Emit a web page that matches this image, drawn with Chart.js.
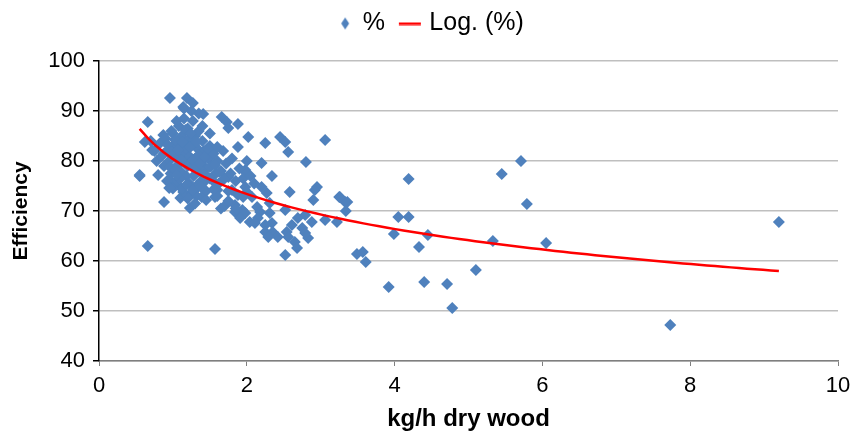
<!DOCTYPE html>
<html>
<head>
<meta charset="utf-8">
<script src="https://cdn.jsdelivr.net/npm/chart.js@4/dist/chart.umd.min.js"></script>
<style>
  html, body { margin: 0; padding: 0; background: #fff; }
  #wrap { width: 855px; height: 434px; }
</style>
</head>
<body>
<div id="wrap"><canvas id="c" width="855" height="434"></canvas></div>
<script>
// Fuel feed rate (kg/h dry wood) for each test
const woodRate = [
  0.55, 0.66, 0.96, 1.19, 1.27, 1.14, 0.66, 0.55, 0.80, 0.62, 0.72, 0.87,
  1.41, 1.66, 1.73, 1.75, 1.88, 2.02, 1.88, 2.25, 2.20, 1.98,
  3.06, 2.45, 2.52, 2.56, 2.80, 2.34, 2.58, 2.95,
  2.27, 2.92, 2.90, 3.26, 3.33, 3.06, 3.22, 2.88, 2.79, 2.69, 2.61, 2.52,
  2.31, 2.34, 2.35, 2.42, 2.54, 2.56, 2.65, 2.68, 2.83, 2.52, 2.75, 2.79,
  1.57, 1.84, 1.94, 1.98, 2.04, 2.14, 2.18, 2.15, 2.11, 2.25, 2.25, 2.29,
  2.20, 1.98, 1.98, 1.75, 1.47, 1.41, 1.30, 1.39, 1.57, 1.60, 1.80, 1.88,
  2.07, 2.31, 1.84, 1.91,
  0.88, 1.10, 1.23, 1.14, 1.26, 0.96, 1.03, 1.33,
  0.70, 0.75, 0.78, 0.82, 0.85, 0.88, 0.90, 0.92, 0.95, 0.97, 1.00, 1.00,
  1.02, 1.05, 1.05, 1.08, 1.08, 1.10, 1.10, 1.12, 1.12, 1.15, 1.15, 1.17,
  1.18, 1.20, 1.20, 1.22, 1.22, 1.25, 1.25, 1.27, 1.28, 1.30, 1.30, 1.32,
  1.33, 1.35, 1.35, 1.38, 1.40, 1.40, 1.42, 1.45, 1.45, 1.48, 1.50, 1.50,
  1.52, 1.55, 1.58, 1.60, 1.62, 1.65, 1.68, 1.70, 1.72, 1.75, 1.78, 1.80,
  1.85, 1.90, 1.95, 2.00, 2.05, 2.10, 1.15, 1.05, 0.98, 1.25, 1.40, 1.50,
  1.20, 1.30, 1.10, 1.00, 0.92, 1.60, 1.70, 1.35, 1.28, 1.18, 1.08, 0.96,
  1.45, 1.55, 1.65, 1.75, 1.85, 1.95, 2.00,
  0.88, 0.93, 0.98, 1.03, 1.03, 1.07, 1.12, 1.13, 1.17, 1.20, 1.23, 1.24,
  1.27, 1.30, 1.32, 1.35, 1.37, 1.42, 1.43, 1.47, 1.50, 1.53, 1.57, 1.60,
  1.63, 1.18, 1.27, 1.38, 1.05, 0.95,
  3.25, 3.36, 3.34, 3.49, 3.57, 3.61, 3.92, 3.99, 4.05, 4.19, 4.19, 4.33,
  4.45, 4.40, 4.71, 4.78, 5.10, 5.33, 5.45, 5.71, 5.79, 6.05, 7.73, 9.20
];

// Measured efficiency (%) for the same tests
const efficiency = [
  77.0, 63.0, 92.6, 92.6, 91.6, 90.8, 87.8, 77.2, 77.2, 83.8, 82.2, 85.2,
  89.4, 88.8, 87.8, 86.6, 87.4, 84.8, 82.8, 83.6, 79.6, 78.2,
  84.2, 84.8, 83.8, 81.8, 79.8, 77.0, 73.8, 74.8,
  73.6, 74.2, 72.2, 72.8, 71.8, 68.2, 67.8, 67.8, 69.2, 68.6, 67.2, 70.2,
  69.6, 67.6, 65.8, 64.8, 65.8, 64.8, 63.8, 62.6, 64.6, 61.2, 66.6, 65.6,
  62.4, 71.2, 70.2, 69.6, 67.8, 70.8, 69.8, 68.6, 67.6, 67.2, 65.8, 64.8,
  74.8, 74.8, 77.8, 76.8, 76.8, 75.6, 74.2, 72.8, 72.8, 74.2, 74.2, 73.2,
  72.8, 71.6, 69.8, 68.6,
  71.8, 72.6, 70.6, 73.8, 73.6, 76.2, 75.2, 75.2,
  84.0, 82.0, 80.0, 83.5, 81.0, 79.0, 84.5, 82.0, 80.0, 77.5, 83.0, 85.5,
  81.0, 79.0, 76.0, 83.0, 87.0, 80.5, 78.0, 85.0, 74.5, 82.0, 88.5, 79.5,
  77.0, 84.0, 86.5, 81.0, 75.5, 79.0, 83.0, 88.0, 77.0, 85.0, 80.5, 73.0,
  82.5, 78.0, 86.0, 76.0, 80.0, 84.0, 82.0, 78.5, 74.0, 80.5, 83.0, 76.5,
  79.0, 81.5, 77.5, 80.0, 75.5, 78.0, 82.0, 76.5, 79.5, 74.0, 77.5, 80.5,
  76.0, 78.5, 76.5, 80.0, 77.0, 75.5, 90.5, 88.0, 86.0, 90.0, 87.0, 85.5,
  72.5, 71.5, 76.5, 74.5, 76.0, 73.0, 71.0, 89.5, 84.2, 82.5, 80.5, 78.8,
  72.2, 74.3, 70.5, 72.0, 70.5, 72.8, 73.8,
  81.5, 83.2, 81.8, 84.2, 78.2, 82.2, 80.2, 83.8, 86.2, 79.0, 82.8, 85.5,
  80.2, 78.5, 83.8, 81.2, 79.5, 77.2, 80.8, 82.5, 78.8, 76.2, 79.2, 82.8,
  77.8, 75.2, 74.2, 74.8, 77.2, 74.6,
  72.8, 71.8, 70.0, 61.4, 61.8, 59.8, 54.8, 65.4, 68.8, 68.8, 76.4, 62.8,
  65.2, 55.8, 55.4, 50.6, 58.2, 64.0, 77.4, 80.0, 71.4, 63.6, 47.2, 67.8
];

// Logarithmic trend line y = trendA + trendB * ln(x)
const trendA = 80.4;
const trendB = -10.1;

// Axis ticks
const xTicks = [0, 2, 4, 6, 8, 10];
const yTicks = [40, 50, 60, 70, 80, 90, 100];

const points = woodRate.map((x, i) => ({ x: x, y: efficiency[i] }));

const xMin = Math.min(...woodRate), xMax = Math.max(...woodRate);
const trend = [];
for (let k = 0; k <= 80; k++) {
  const x = xMin + (xMax - xMin) * k / 80;
  trend.push({ x: x, y: trendA + trendB * Math.log(x) });
}

const FONT = '"Liberation Sans", Arial, sans-serif';
const BLUE = '#4F81BD';
const RED = '#FF0000';

// Small legend glyphs: a diamond marker and a short red stroke
function diamondGlyph() {
  const c = document.createElement('canvas');
  c.width = 20; c.height = 14;
  const g = c.getContext('2d');
  g.fillStyle = BLUE;
  g.beginPath();
  g.moveTo(12, 1); g.lineTo(16, 7); g.lineTo(12, 13); g.lineTo(8, 7);
  g.closePath(); g.fill();
  return c;
}
function lineGlyph() {
  const c = document.createElement('canvas');
  c.width = 36; c.height = 4;
  const g = c.getContext('2d');
  g.fillStyle = RED;
  g.fillRect(7, 1, 22, 2.5);
  return c;
}
const glyphs = [diamondGlyph(), lineGlyph()];

// Legend block: fixed height and a small nudge of its drawing origin
const legendPlacement = {
  id: 'legendPlacement',
  beforeInit(chart) {
    const fit = chart.legend.fit;
    chart.legend.fit = function () { fit.bind(chart.legend)(); this.height = 61; };
  },
  afterLayout(chart) {
    const lg = chart.legend;
    lg.left += 11; lg.right += 11;
    lg.top -= 7; lg.bottom -= 7;
  }
};

new Chart(document.getElementById('c'), {
  type: 'scatter',
  data: {
    datasets: [
      {
        label: '%',
        data: points,
        pointStyle: 'rectRot',
        pointRadius: 6,
        pointHoverRadius: 6,
        backgroundColor: BLUE,
        borderColor: BLUE,
        borderWidth: 0,
        order: 2
      },
      {
        label: 'Log. (%)',
        type: 'line',
        data: trend,
        borderColor: RED,
        backgroundColor: RED,
        borderWidth: 2.5,
        pointRadius: 0,
        tension: 0,
        fill: false,
        order: 1
      }
    ]
  },
  plugins: [legendPlacement],
  options: {
    responsive: false,
    animation: false,
    devicePixelRatio: 1,
    layout: { padding: { left: 0, right: 17, top: 0, bottom: 0 } },
    plugins: {
      tooltip: { enabled: false },
      legend: {
        position: 'top',
        align: 'center',
        labels: {
          usePointStyle: true,
          boxWidth: 14,
          boxHeight: 14,
          color: '#000',
          font: { family: FONT, size: 25 },
          padding: 18,
          generateLabels(chart) {
            return chart.data.datasets.map((ds, i) => ({
              text: ds.label,
              fillStyle: ds.backgroundColor,
              strokeStyle: ds.borderColor,
              lineWidth: 0,
              pointStyle: glyphs[i],
              datasetIndex: i,
              hidden: false
            }));
          }
        }
      }
    },
    scales: {
      x: {
        type: 'linear',
        min: 0,
        max: 10,
        afterBuildTicks(scale) { scale.ticks = xTicks.map(v => ({ value: v })); },
        afterFit(scale) { scale.height = 73; scale.paddingRight = 0; scale.paddingLeft = 0; },
        grid: {
          display: true,
          drawOnChartArea: false,
          drawTicks: true,
          tickLength: 5,
          color: '#7F7F7F'
        },
        border: { display: true, color: '#7F7F7F', width: 1.5 },
        ticks: { color: '#000', font: { family: FONT, size: 22 }, padding: 7, maxRotation: 0 },
        title: {
          display: true,
          text: 'kg/h dry wood',
          color: '#000',
          font: { family: FONT, size: 24, weight: 'bold' },
          padding: { top: 14, bottom: 0 }
        }
      },
      y: {
        type: 'linear',
        min: 40,
        max: 100,
        afterBuildTicks(scale) { scale.ticks = yTicks.map(v => ({ value: v })); },
        afterFit(scale) { scale.width = 99; },
        grid: {
          color: '#BFBFBF',
          lineWidth: 1.5,
          drawTicks: true,
          tickLength: 6,
          tickColor: '#000'
        },
        border: { display: true, color: '#000', width: 1.5 },
        ticks: { color: '#000', font: { family: FONT, size: 22 }, padding: 8 },
        title: {
          display: true,
          text: 'Efficiency',
          color: '#000',
          font: { family: FONT, size: 21, weight: 'bold' },
          padding: { top: 9, bottom: 0 }
        }
      }
    }
  }
});
</script>
</body>
</html>
